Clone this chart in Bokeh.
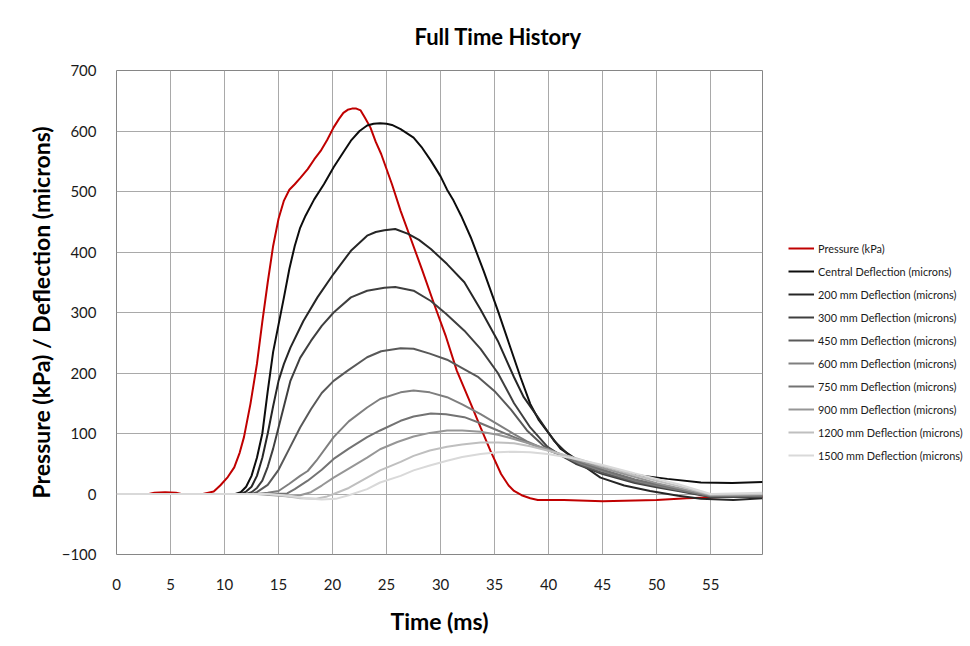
from bokeh.plotting import figure
from bokeh.models import Legend, LegendItem, FixedTicker, Range1d, Title
from bokeh.embed import file_html
from bokeh.resources import INLINE

# ---------------- data ----------------
pressure_t = [0, 3, 3.5, 4.5, 5.5, 6, 8, 9, 9.6, 10.3, 10.9, 11.4, 11.8, 12.4, 13, 13.5, 14, 14.5, 15, 15.5,
              16, 16.5, 17, 17.7, 18.3, 18.9, 19.5, 20.1, 20.6, 21, 21.4, 21.8, 22.2, 22.6, 23, 23.5, 24, 24.5, 25.5, 26.3,
              27.2, 28.3, 29.4, 30.5, 31.5, 32.8, 33.7, 34.6, 35.6, 36.3, 36.8, 37.5, 38.3, 39, 41.4, 45, 50, 52.8, 56, 59.8]
pressure_v = [0, 0, 2, 3, 2, 0, 0, 4, 14, 28, 44, 68, 94, 149, 215, 285, 350, 410, 455, 485,
              503, 512, 522, 537, 553, 567, 585, 606, 620, 630, 635, 637, 637, 634, 622, 606, 582, 562, 512, 468,
              424, 370, 314, 260, 204, 149, 110, 72, 33, 14, 5, -2, -7, -10, -10, -12, -10, -7, -5, -4]

central_t = [0, 11, 11.5, 12, 12.5, 13, 13.5, 14, 14.5, 15, 15.5, 16, 16.5, 17, 17.5, 18.3, 19.2, 20.1, 21,
             21.7, 22.5, 23.2, 23.8, 24.4, 25, 25.5, 26.3, 27.5, 28.3, 29.1, 30, 30.6, 31.2, 31.9, 32.8, 34, 35.3, 36.5,
             37.4, 38.3, 39.1, 39.9, 41.1, 42.5, 44.8, 47.9, 51, 54.1, 57, 59.8]
central_v = [0, 0, 3, 12, 30, 60, 100, 170, 235, 280, 325, 372, 410, 440, 460, 487, 512, 540, 565,
             584, 600, 609, 612, 613, 612, 610, 603, 589, 572, 551, 525, 503, 485, 460, 424, 368, 303, 240,
             193, 149, 122, 103, 75, 58, 44, 32, 25, 19, 18, 20]

d200_t = [0, 11.5, 12, 12.5, 13, 13.5, 14, 14.5, 15, 15.5, 16.1, 17.3, 18.6, 20.1, 21.7, 23.2, 24, 24.8, 25.8,
          27, 28, 29.1, 30.6, 32.2, 33.7, 35.3, 36.8, 37.7, 39, 40.5, 42, 44.8, 47, 49.4, 52, 54.1, 57.1, 59.8]
d200_v = [0, 0, 4, 12, 30, 60, 100, 145, 187, 215, 242, 286, 325, 364, 402, 427, 433, 436, 438,
          430, 420, 405, 380, 350, 305, 253, 193, 160, 127, 88, 62, 27, 14, 5, -3, -8, -10, -7]

d300_t = [0, 12, 12.5, 13, 13.5, 14, 14.5, 15, 15.5, 16.1, 17, 18, 19, 20.1, 21.7, 23.2, 24.8, 25.8,
          27.5, 29.1, 30.5, 32.2, 33.7, 35.3, 36.8, 38.3, 39.9, 41, 42.5, 45, 48, 50, 52, 55, 59.8]
d300_v = [0, 0, 3, 10, 22, 45, 75, 110, 145, 187, 225, 253, 278, 300, 325, 336, 341, 342,
          336, 319, 298, 270, 240, 200, 150, 110, 78, 65, 50, 33, 18, 11, 5, -5, -5]

d450_t = [0, 12.5, 13, 14, 15, 16, 17, 18, 19, 20.1, 21.4, 23.2, 24.5, 26.3, 27.5, 29, 30.6, 32, 33.5,
          35, 36.5, 38, 39.5, 41, 43, 45, 48, 50, 52, 55, 59.8]
d450_v = [0, 0, 3, 15, 40, 75, 110, 140, 167, 187, 204, 226, 236, 241, 240, 232, 222, 208, 193,
          170, 140, 105, 80, 66, 48, 35, 20, 13, 6, -4, -4]

d600_t = [0, 13, 14, 15, 16, 17, 17.7, 18.5, 20.1, 21.5, 23.2, 24.4, 26.3, 27.5, 29, 30.6, 32, 33.7,
          35.3, 36.8, 38, 39.3, 41, 43, 45, 48, 50, 52, 55, 59.8]
d600_v = [0, 0, 2, 5, 17, 30, 38, 55, 94, 120, 143, 157, 168, 171, 168, 160, 148, 132,
          115, 99, 87, 77, 66, 50, 38, 22, 14, 7, -3, -3]

d750_t = [0, 14, 15.8, 16.5, 17.7, 19, 20.1, 21.5, 23.2, 24.4, 26.3, 27.5, 29.1, 30.5, 32.2, 33.7, 35.3,
          36.8, 38.3, 40, 42, 45, 48, 50, 52, 55, 59.8]
d750_v = [0, 0, 1, 8, 22, 40, 58, 75, 94, 105, 121, 128, 133, 132, 127, 117, 105,
          94, 83, 72, 58, 40, 24, 16, 8, -3, -2]

d900_t = [0, 13, 14.5, 16, 17, 18, 19, 20.1, 21.5, 23.2, 24.4, 26, 27.5, 29, 30.6, 32, 33.7, 35.3, 36.8,
          38.3, 39.9, 42, 45, 48, 50, 52, 55, 59.8]
d900_v = [0, 0, -2, -4, -2, 3, 14, 27, 42, 60, 74, 86, 95, 101, 105, 105, 103, 98, 91,
          83, 74, 60, 43, 28, 18, 10, -2, -1]

d1200_t = [0, 14, 15.5, 17, 18.5, 19.5, 20.1, 21.5, 23.2, 24.4, 26.3, 27.5, 29, 30.6, 32, 33.7, 35.3,
           36.8, 38.3, 39.9, 42, 45, 48, 50, 52, 55, 59.8]
d1200_v = [0, 0, -3, -7, -8, -4, 0, 10, 27, 39, 53, 63, 72, 78, 82, 85, 85,
           84, 79, 72, 62, 46, 31, 22, 13, -1, 0]

d1500_t = [0, 14, 16, 17.5, 19, 20.3, 21.5, 23.2, 24.4, 26.3, 27.5, 29, 30.6, 32, 33.7, 35.3, 36.8,
           38.3, 39.9, 42, 45, 48, 50, 52, 55, 59.8]
d1500_v = [0, 0, -3, -7, -9, -8, -2, 8, 19, 30, 39, 47, 55, 61, 66, 69, 70,
           69, 66, 60, 48, 34, 25, 16, 0, 2]

series_names = ["Pressure (kPa)", "Central Deflection (microns)", "200 mm Deflection (microns)",
                "300 mm Deflection (microns)", "450 mm Deflection (microns)", "600 mm Deflection (microns)",
                "750 mm Deflection (microns)", "900 mm Deflection (microns)", "1200 mm Deflection (microns)",
                "1500 mm Deflection (microns)"]
series_t = [pressure_t, central_t, d200_t, d300_t, d450_t, d600_t, d750_t, d900_t, d1200_t, d1500_t]
series_v = [pressure_v, central_v, d200_v, d300_v, d450_v, d600_v, d750_v, d900_v, d1200_v, d1500_v]
series_colors = ["#c00000", "#0d0d0d", "#262626", "#3f3f3f", "#595959", "#7f7f7f",
                 "#737373", "#969696", "#bfbfbf", "#d9d9d9"]

x_ticks = [0, 5, 10, 15, 20, 25, 30, 35, 40, 45, 50, 55]
y_ticks = [-100, 0, 100, 200, 300, 400, 500, 600, 700]

FONT = "Lato"

p = figure(frame_width=646, frame_height=484, output_backend="svg", toolbar_location=None,
           x_range=Range1d(0, 59.8), y_range=Range1d(-100, 700),
           min_border_left=116, min_border_right=200, min_border_top=70, min_border_bottom=76)

p.outline_line_color = "#868686"
p.outline_line_width = 1
p.background_fill_color = "white"
p.border_fill_color = "white"

title = Title(text="Full Time History", align="left", offset=298, standoff=41,
              text_font=FONT, text_font_size="22px", text_font_style="bold", text_color="#000000")
p.add_layout(title, "above")

for ax in (p.xaxis[0], p.yaxis[0]):
    ax.axis_line_color = None
    ax.major_tick_line_color = None
    ax.minor_tick_line_color = None
    ax.major_label_text_font = FONT
    ax.major_label_text_font_size = "15px"
    ax.major_label_text_color = "#1a1a1a"
    ax.axis_label_text_font = FONT
    ax.axis_label_text_font_size = "23px"
    ax.axis_label_text_font_style = "bold"
    ax.axis_label_text_color = "#000000"

p.xaxis.ticker = FixedTicker(ticks=x_ticks)
p.yaxis.ticker = FixedTicker(ticks=y_ticks)
p.xaxis.major_label_standoff = 18
p.yaxis.major_label_standoff = 14
p.xaxis.axis_label = "Time (ms)"
p.yaxis.axis_label = "Pressure (kPa) / Deflection (microns)"
p.xaxis.axis_label_standoff = 14
p.yaxis.axis_label_standoff = 4

p.xgrid.ticker = FixedTicker(ticks=x_ticks)
p.ygrid.ticker = FixedTicker(ticks=y_ticks)
p.grid.grid_line_color = "#a9a9a9"
p.grid.grid_line_width = 1

items = []
for name, t, v, c in zip(series_names, series_t, series_v, series_colors):
    r = p.line(t, v, line_color=c, line_width=2)
    items.append(LegendItem(label=name, renderers=[r]))

legend = Legend(items=items, location=(26, 89), orientation="vertical")
legend.label_text_font = FONT
legend.label_text_font_size = "10.9px"
legend.label_text_color = "#1a1a1a"
legend.glyph_width = 26
legend.glyph_height = 20
legend.label_height = 20
legend.label_standoff = 4
legend.spacing = 3
legend.padding = 0
legend.margin = 0
legend.border_line_color = None
legend.background_fill_alpha = 0
p.add_layout(legend, "right")

open("out.html", "w").write(file_html(p, INLINE))
